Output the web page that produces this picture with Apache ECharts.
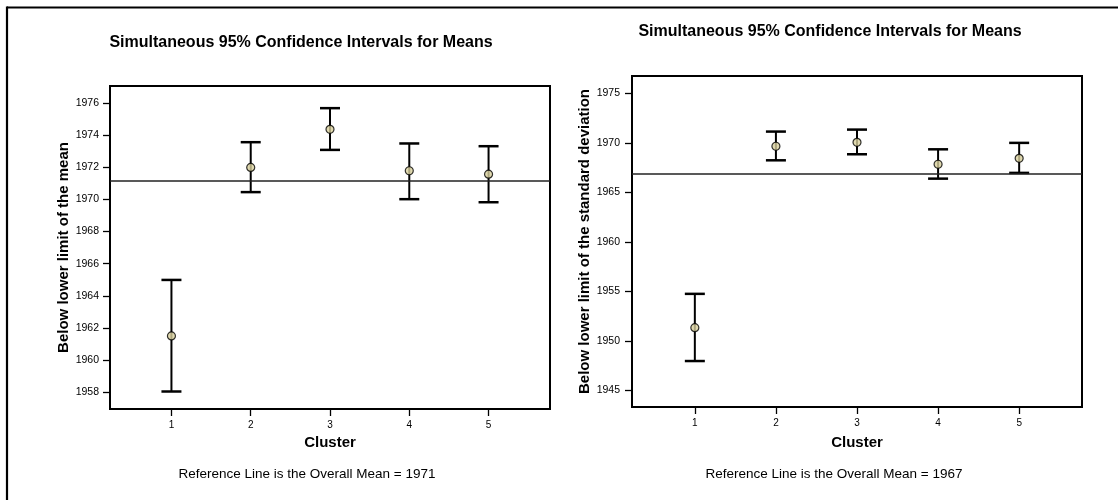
<!DOCTYPE html>
<html>
<head>
<meta charset="utf-8">
<script src="https://cdn.jsdelivr.net/npm/echarts@6/dist/echarts.min.js"></script>
<style>
html,body{margin:0;padding:0;background:#fff;}
#chart{width:1118px;height:500px;}
</style>
</head>
<body>
<div id="chart"></div>
<script>
// ---- data ----
const clusters = [1, 2, 3, 4, 5];

const leftLower = [1958.04, 1970.46, 1973.09, 1970.02, 1969.83];
const leftMean  = [1961.50, 1972.00, 1974.37, 1971.79, 1971.58];
const leftUpper = [1964.99, 1973.57, 1975.69, 1973.49, 1973.32];
const leftRef = 1971.19;
const leftYTicks = [1958, 1960, 1962, 1964, 1966, 1968, 1970, 1972, 1974, 1976];

const rightLower = [1947.98, 1968.24, 1968.85, 1966.39, 1966.97];
const rightMean  = [1951.35, 1969.66, 1970.06, 1967.84, 1968.44];
const rightUpper = [1954.76, 1971.14, 1971.34, 1969.35, 1970.00];
const rightRef = 1966.87;
const rightYTicks = [1945, 1950, 1955, 1960, 1965, 1970, 1975];

const titleText = 'Simultaneous 95% Confidence Intervals for Means';
const xName = 'Cluster';
const leftYName = 'Below lower limit of the mean';
const rightYName = 'Below lower limit of the standard deviation';
const leftNote = 'Reference Line is the Overall Mean = 1971';
const rightNote = 'Reference Line is the Overall Mean = 1967';

// ---- chart ----
const FONT = 'Liberation Sans, Arial, sans-serif';

function errorBarItem(params, api) {
  const x = api.value(0), lo = api.value(1), hi = api.value(2);
  const pLo = api.coord([x, lo]);
  const pHi = api.coord([x, hi]);
  const hw = 10;
  return {
    type: 'group',
    children: [
      {type: 'line', shape: {x1: pLo[0], y1: pLo[1], x2: pHi[0], y2: pHi[1]}, style: {stroke: '#000', lineWidth: 2}},
      {type: 'line', shape: {x1: pHi[0] - hw, y1: pHi[1], x2: pHi[0] + hw, y2: pHi[1]}, style: {stroke: '#000', lineWidth: 2.5}},
      {type: 'line', shape: {x1: pLo[0] - hw, y1: pLo[1], x2: pLo[0] + hw, y2: pLo[1]}, style: {stroke: '#000', lineWidth: 2.5}}
    ]
  };
}

function plainNumber(v) { return String(Math.round(v)); }

function xAxisDef(gridIndex, gap) {
  return {
    type: 'value', gridIndex: gridIndex, min: 0.225, max: 5.775,
    name: xName, nameLocation: 'middle', nameGap: gap,
    nameTextStyle: {fontFamily: FONT, fontSize: 15, fontWeight: 'bold', color: '#000'},
    axisLine: {show: true, onZero: false, lineStyle: {color: '#000', width: 2}},
    axisTick: {show: true, length: 7, lineStyle: {color: '#000', width: 1.3}, customValues: clusters},
    axisLabel: {fontFamily: FONT, fontSize: 10, color: '#000', margin: 11, customValues: clusters, formatter: plainNumber},
    splitLine: {show: false}
  };
}

function yAxisDef(gridIndex, min, max, ticks, name, gap, margin) {
  return {
    type: 'value', gridIndex: gridIndex, min: min, max: max,
    name: name, nameLocation: 'middle', nameGap: gap, nameRotate: 90,
    nameTextStyle: {fontFamily: FONT, fontSize: 15, fontWeight: 'bold', color: '#000'},
    axisLine: {show: true, onZero: false, lineStyle: {color: '#000', width: 2}},
    axisTick: {show: true, length: 7, lineStyle: {color: '#000', width: 1.3}, customValues: ticks},
    axisLabel: {fontFamily: FONT, fontSize: 10.5, color: '#000', margin: margin, customValues: ticks, formatter: plainNumber},
    splitLine: {show: false}
  };
}

function barData(lower, upper) {
  return clusters.map((c, i) => [c, lower[i], upper[i]]);
}
function meanData(mean) {
  return clusters.map((c, i) => [c, mean[i]]);
}

const chart = echarts.init(document.getElementById('chart'), null, {renderer: 'canvas'});
chart.setOption({
  animation: false,
  backgroundColor: '#fff',
  grid: [
    {left: 110, right: 568, top: 86, bottom: 91, show: true, borderColor: '#000', borderWidth: 2, backgroundColor: '#fff'},
    {left: 632, right: 36, top: 76, bottom: 93, show: true, borderColor: '#000', borderWidth: 2, backgroundColor: '#fff'}
  ],
  xAxis: [xAxisDef(0, 26), xAxisDef(1, 28)],
  yAxis: [
    yAxisDef(0, 1956.95, 1977.07, leftYTicks, leftYName, 38, 11),
    yAxisDef(1, 1943.34, 1976.75, rightYTicks, rightYName, 39, 12)
  ],
  series: [
    {
      type: 'custom', xAxisIndex: 0, yAxisIndex: 0, renderItem: errorBarItem,
      encode: {x: 0, y: [1, 2]}, data: barData(leftLower, leftUpper), z: 3,
      markLine: {silent: true, symbol: 'none', label: {show: false},
        lineStyle: {color: '#222', width: 1.5, type: 'solid'}, data: [{yAxis: leftRef}]}
    },
    {
      type: 'scatter', xAxisIndex: 0, yAxisIndex: 0, data: meanData(leftMean),
      symbol: 'circle', symbolSize: 8, z: 5,
      itemStyle: {color: '#d8cf9c', borderColor: '#000', borderWidth: 1.2}
    },
    {
      type: 'custom', xAxisIndex: 1, yAxisIndex: 1, renderItem: errorBarItem,
      encode: {x: 0, y: [1, 2]}, data: barData(rightLower, rightUpper), z: 3,
      markLine: {silent: true, symbol: 'none', label: {show: false},
        lineStyle: {color: '#222', width: 1.5, type: 'solid'}, data: [{yAxis: rightRef}]}
    },
    {
      type: 'scatter', xAxisIndex: 1, yAxisIndex: 1, data: meanData(rightMean),
      symbol: 'circle', symbolSize: 8, z: 5,
      itemStyle: {color: '#d8cf9c', borderColor: '#000', borderWidth: 1.2}
    }
  ],
  graphic: [
    {type: 'line', shape: {x1: 7, y1: 7.5, x2: 1118, y2: 7.5}, style: {stroke: '#000', lineWidth: 2.2}, silent: true},
    {type: 'line', shape: {x1: 7, y1: 6.5, x2: 7, y2: 500}, style: {stroke: '#000', lineWidth: 2.2}, silent: true},
    {type: 'text', x: 301, y: 43, style: {text: titleText, fontFamily: FONT, fontSize: 16, fontWeight: 'bold', fill: '#000', align: 'center', verticalAlign: 'middle'}},
    {type: 'text', x: 830, y: 32, style: {text: titleText, fontFamily: FONT, fontSize: 16, fontWeight: 'bold', fill: '#000', align: 'center', verticalAlign: 'middle'}},
    {type: 'text', x: 307, y: 474, style: {text: leftNote, fontFamily: FONT, fontSize: 13.5, fill: '#000', align: 'center', verticalAlign: 'middle'}},
    {type: 'text', x: 834, y: 474, style: {text: rightNote, fontFamily: FONT, fontSize: 13.5, fill: '#000', align: 'center', verticalAlign: 'middle'}}
  ]
});
</script>
</body>
</html>
